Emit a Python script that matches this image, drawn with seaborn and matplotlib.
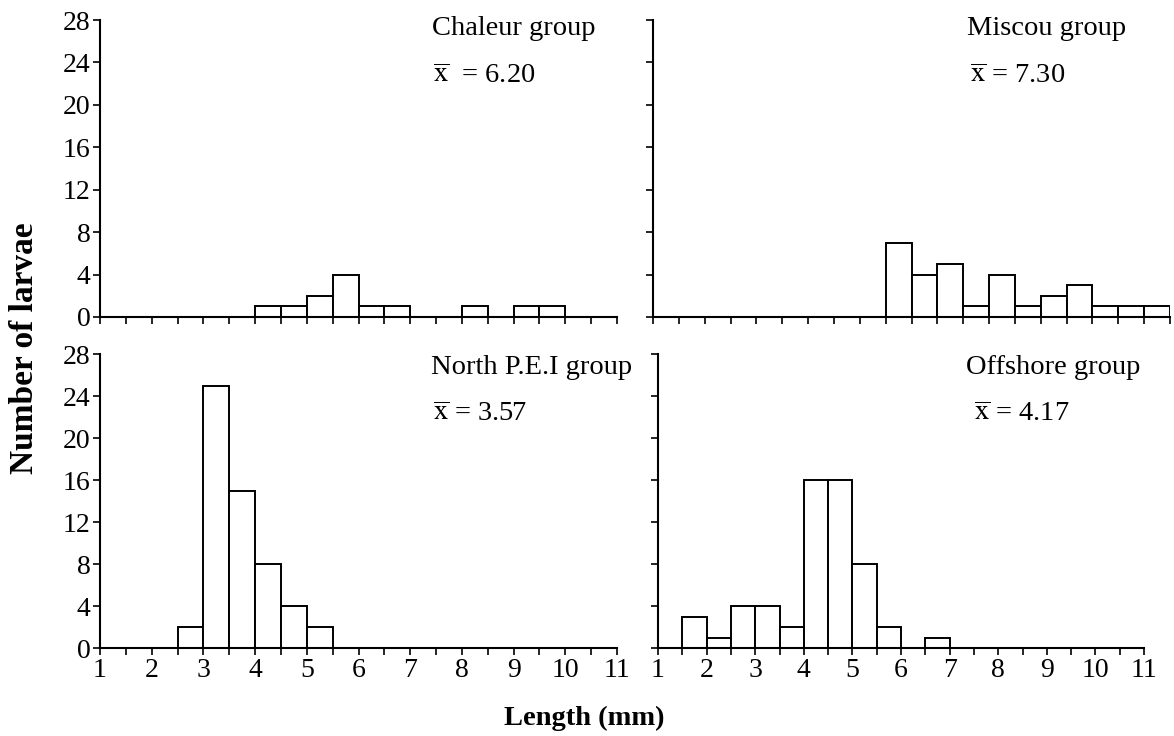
import numpy as np
import pandas as pd
import matplotlib
matplotlib.use('Agg')
import matplotlib.pyplot as plt
import seaborn as sns

# bin counts for 0.5 mm classes, left edges 1.0, 1.5, ... 10.5
bin_edges = np.arange(1, 11.01, 0.5)
bin_mids = bin_edges[:-1] + 0.25

chaleur = [0, 0, 0, 0, 0, 0, 1, 1, 2, 4, 1, 1, 0, 0, 1, 0, 1, 1, 0, 0]
miscou = [0, 0, 0, 0, 0, 0, 0, 0, 0, 7, 4, 5, 1, 4, 1, 2, 3, 1, 1, 1]
north_pei = [0, 0, 0, 2, 25, 15, 8, 4, 2, 0, 0, 0, 0, 0, 0, 0, 0, 0, 0, 0]
offshore = [0, 3, 1, 4, 4, 2, 16, 16, 8, 2, 0, 1, 0, 0, 0, 0, 0, 0, 0, 0]

group_names = ['Chaleur group', 'Miscou group', 'North P.E.I group', 'Offshore group']
group_means = ['6.20', '7.30', '3.57', '4.17']
y_ticks = [0, 4, 8, 12, 16, 20, 24, 28]
x_labels = [str(int(v)) if v == int(v) else '' for v in bin_edges]

# black-on-white, like the printed figure
sns.set_style('ticks', {'axes.edgecolor': 'black', 'text.color': 'black',
                        'xtick.color': 'black', 'ytick.color': 'black',
                        'axes.labelcolor': 'black'})
plt.rcParams['font.family'] = ['Liberation Serif', 'DejaVu Serif']
plt.rcParams['mathtext.fontset'] = 'stix'

fig = plt.figure(figsize=(11.74, 7.36), dpi=100)
W, H = 1174, 736

def add_axes(left, right, top, bottom):
    return fig.add_axes([left / W, 1 - bottom / H, (right - left) / W, (bottom - top) / H])

panels = [
    (add_axes(100, 617, 20, 317), chaleur, (0.642, 0.97), (0.645, 0.81), '$\\overline{\\mathrm{x}}$  = '),
    (add_axes(653, 1170, 20, 317), miscou, (0.607, 0.97), (0.613, 0.81), '$\\overline{\\mathrm{x}}$ = '),
    (add_axes(100, 617, 354, 648), north_pei, (0.640, 0.955), (0.645, 0.795), '$\\overline{\\mathrm{x}}$ = '),
    (add_axes(658, 1144, 354, 648), offshore, (0.634, 0.955), (0.650, 0.795), '$\\overline{\\mathrm{x}}$ = '),
]

for i, (ax, counts, name_pos, mean_pos, xbar) in enumerate(panels):
    df = pd.DataFrame({'length': bin_mids, 'n': np.asarray(counts, dtype=float)})
    sns.histplot(data=df, x='length', weights='n', binwidth=0.5, binrange=(1, 11), ax=ax,
                 color='white', edgecolor='black', linewidth=1.4, alpha=1)
    ax.set_xlim(1, 11)
    ax.set_ylim(0, 28)
    ax.set_xticks(bin_edges)
    ax.set_yticks(y_ticks)
    ax.set_xlabel('')
    ax.set_ylabel('')
    sns.despine(ax=ax)
    for side in ['left', 'bottom']:
        ax.spines[side].set_linewidth(1.5)
    ax.tick_params(direction='out', length=5, width=1.2, labelsize=20, pad=2)
    if i < 2:
        ax.tick_params(axis='x', labelbottom=False)
    else:
        ax.set_xticklabels(x_labels)
    if i % 2 == 1:
        ax.tick_params(axis='y', labelleft=False)
    ax.text(name_pos[0], name_pos[1], group_names[i], transform=ax.transAxes,
            fontsize=20.5, ha='left', va='center')
    ax.text(mean_pos[0], mean_pos[1], xbar + group_means[i], transform=ax.transAxes,
            fontsize=20.5, ha='left', va='center')

fig.text(0.021, 0.527, 'Number of larvae', rotation=90, fontsize=24,
         fontweight='bold', ha='center', va='center')
fig.text(0.498, 0.024, 'Length (mm)', fontsize=20.5, fontweight='bold',
         ha='center', va='center')

plt.savefig('out.png', dpi=100)
